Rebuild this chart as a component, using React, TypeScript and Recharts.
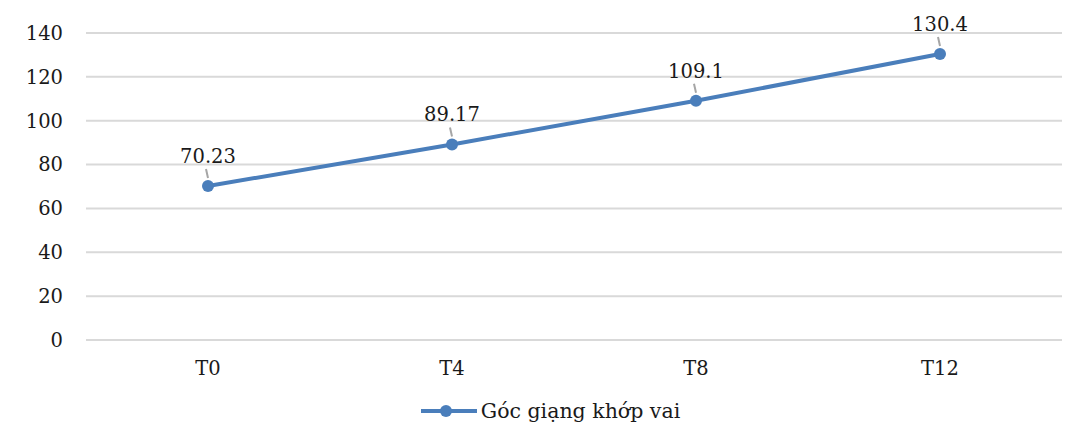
import React from "react";
import { LineChart, Line, XAxis, YAxis, CartesianGrid, Legend } from "recharts";

const categories = ["T0", "T4", "T8", "T12"];
const values = [70.23, 89.17, 109.1, 130.4];
const valueLabels = ["70.23", "89.17", "109.1", "130.4"];
const yTicks = [0, 20, 40, 60, 80, 100, 120, 140];
const seriesName = "Góc giạng khớp vai";

const data = categories.map((c, i) => ({ name: c, value: values[i], label: valueLabels[i] }));

const FONT = '"DejaVu Serif", serif';
const FS = 19.5;
const TEXT = "#1a1a1a";
const BLUE = "#4a7ebb";

const DataLabel = (props: any) => {
  const { x, y, index } = props;
  if (x == null || y == null) return null;
  return (
    <g>
      <line x1={x - 2} y1={y - 17} x2={x} y2={y - 8} stroke="#a6a6a6" strokeWidth={2} />
      <text x={x} y={y - 23} textAnchor="middle" fontFamily={FONT} fontSize={FS} fill={TEXT}>
        {valueLabels[index]}
      </text>
    </g>
  );
};

const LegendContent = () => (
  <div style={{ display: "flex", justifyContent: "center", alignItems: "center", fontFamily: FONT, fontSize: 20.5, color: TEXT }}>
    <svg width={58} height={16} style={{ marginRight: 3 }}>
      <line x1={1} y1={8} x2={57} y2={8} stroke={BLUE} strokeWidth={4} />
      <circle cx={26} cy={8} r={6} fill={BLUE} />
    </svg>
    <span>{seriesName}</span>
  </div>
);

export default function App() {
  return (
    <div style={{ position: "relative", width: 1084, height: 443, margin: -8, overflow: "hidden", background: "#fff" }}>
      <div style={{ position: "absolute", left: 3, top: 6, width: 1200, height: 600, border: "2px solid #d9d9d9", boxSizing: "border-box" }} />
      <div style={{ position: "absolute", left: 0, top: 0 }}>
        <LineChart width={1084} height={443} data={data} margin={{ top: 33, right: 22, left: 0, bottom: 39 }}>
          <CartesianGrid vertical={false} stroke="#d9d9d9" strokeWidth={2} />
          <XAxis
            dataKey="name"
            axisLine={false}
            tickLine={false}
            padding={{ left: 122, right: 122 }}
            tick={{ fontFamily: FONT, fontSize: FS, fill: TEXT }}
            tickMargin={15}
            height={40}
          />
          <YAxis
            domain={[0, 140]}
            ticks={yTicks}
            interval={0}
            axisLine={false}
            tickLine={false}
            width={86}
            tickMargin={17}
            tick={{ fontFamily: FONT, fontSize: FS, fill: TEXT }}
          />
          <Legend verticalAlign="bottom" wrapperStyle={{ top: 399, left: 0, width: 1100 }} content={<LegendContent />} />
          <Line
            type="linear"
            dataKey="value"
            name={seriesName}
            stroke={BLUE}
            strokeWidth={4}
            dot={{ r: 6, fill: BLUE, stroke: BLUE, strokeWidth: 0 }}
            label={<DataLabel />}
            isAnimationActive={false}
          />
        </LineChart>
      </div>
    </div>
  );
}
